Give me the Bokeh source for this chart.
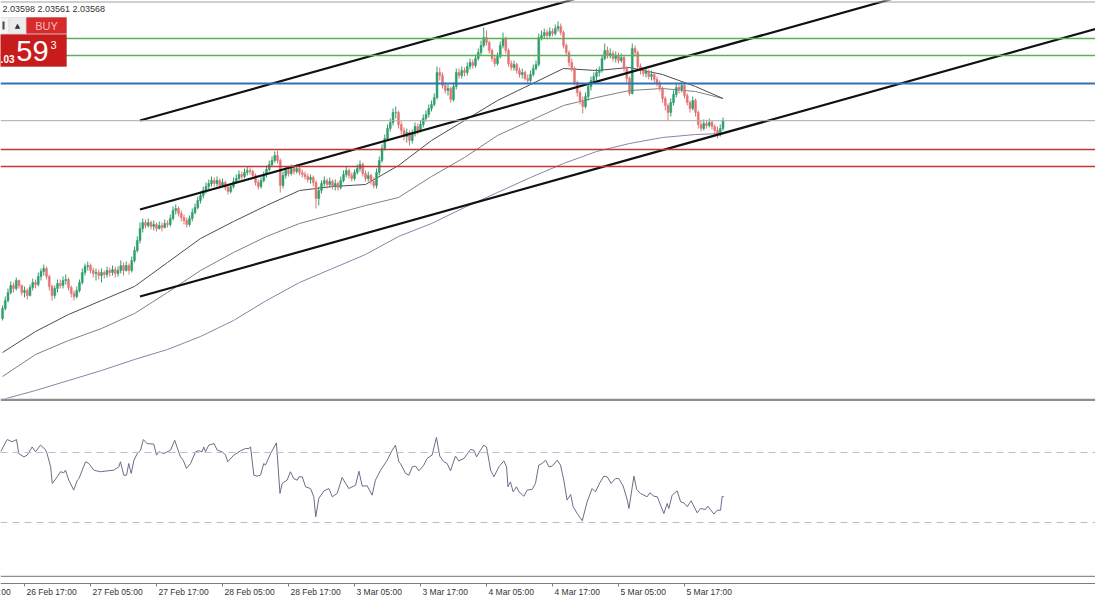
from bokeh.plotting import figure
from bokeh.layouts import column
from bokeh.models import Range1d, Span, Label, BoxAnnotation, ColumnDataSource
from bokeh.embed import file_html
from bokeh.resources import INLINE
from bokeh.core.properties import value

# ---------------- data (M30 bars, bar index 0 = 26 Feb 05:00) ----------------
first_bar = 16
first_open = 2.0159
close = [
    2.0169, 2.0177, 2.0185, 2.0192, 2.0189, 2.0197, 2.0192, 2.0185, 2.0187, 2.0182,
    2.0190, 2.0195, 2.0193, 2.0201, 2.0206, 2.0209, 2.0201, 2.0191, 2.0182, 2.0189,
    2.0194, 2.0192, 2.0197, 2.0198, 2.0190, 2.0184, 2.0181, 2.0187, 2.0195, 2.0205,
    2.0211, 2.0212, 2.0207, 2.0204, 2.0205, 2.0202, 2.0205, 2.0203, 2.0207, 2.0205,
    2.0208, 2.0204, 2.0207, 2.0212, 2.0207, 2.0212, 2.0207, 2.0217, 2.0227, 2.0237,
    2.0249, 2.0255, 2.0252, 2.0255, 2.0251, 2.0253, 2.0249, 2.0252, 2.0250, 2.0254,
    2.0253, 2.0259, 2.0267, 2.0269, 2.0264, 2.0260, 2.0257, 2.0253, 2.0259, 2.0265,
    2.0270, 2.0277, 2.0282, 2.0287, 2.0291, 2.0294, 2.0297, 2.0294, 2.0297, 2.0292,
    2.0295, 2.0290, 2.0286, 2.0291, 2.0296, 2.0299, 2.0303, 2.0301, 2.0305, 2.0307,
    2.0306, 2.0302, 2.0295, 2.0291, 2.0297, 2.0303, 2.0308, 2.0313, 2.0317, 2.0322,
    2.0317, 2.0292, 2.0302, 2.0307, 2.0304, 2.0309, 2.0306, 2.0309, 2.0305, 2.0303,
    2.0301, 2.0298, 2.0300, 2.0295, 2.0279, 2.0287, 2.0294, 2.0297, 2.0293, 2.0296,
    2.0291, 2.0294, 2.0290, 2.0297, 2.0303, 2.0307, 2.0302, 2.0299, 2.0305, 2.0309,
    2.0313, 2.0304, 2.0299, 2.0302, 2.0296, 2.0292, 2.0305, 2.0317, 2.0329, 2.0339,
    2.0349, 2.0355, 2.0365, 2.0365, 2.0353, 2.0347, 2.0341, 2.0345, 2.0337, 2.0344,
    2.0351, 2.0347, 2.0353, 2.0359, 2.0363, 2.0369, 2.0373, 2.0380, 2.0405, 2.0402,
    2.0392, 2.0387, 2.0389, 2.0378, 2.0391, 2.0405, 2.0402, 2.0407, 2.0405, 2.0411,
    2.0415, 2.0412, 2.0419, 2.0425, 2.0432, 2.0440, 2.0435, 2.0427, 2.0419, 2.0414,
    2.0421, 2.0432, 2.0439, 2.0427, 2.0414, 2.0410, 2.0413, 2.0407, 2.0403, 2.0405,
    2.0399, 2.0397, 2.0403, 2.0409, 2.0413, 2.0440, 2.0442, 2.0445, 2.0442, 2.0446,
    2.0444, 2.0449, 2.0451, 2.0445, 2.0432, 2.0425, 2.0415, 2.0409, 2.0395, 2.0385,
    2.0377, 2.0371, 2.0381, 2.0391, 2.0397, 2.0401, 2.0405, 2.0407, 2.0419, 2.0427,
    2.0422, 2.0424, 2.0419, 2.0422, 2.0417, 2.0420, 2.0409, 2.0399, 2.0384, 2.0429,
    2.0425, 2.0411, 2.0407, 2.0404, 2.0406, 2.0401, 2.0403, 2.0398, 2.0394, 2.0389,
    2.0379, 2.0372, 2.0365, 2.0375, 2.0383, 2.0390, 2.0388, 2.0392, 2.0382, 2.0375,
    2.0369, 2.0377, 2.0365, 2.0353, 2.0349, 2.0354, 2.0352, 2.0355, 2.0351, 2.0347,
    2.0344, 2.0349, 2.0357,
]
high = [
    2.0172, 2.0181, 2.0189, 2.0196, 2.0195, 2.0200, 2.0198, 2.0193, 2.0191, 2.0189,
    2.0193, 2.0199, 2.0198, 2.0205, 2.0209, 2.0213, 2.0211, 2.0203, 2.0193, 2.0192,
    2.0198, 2.0198, 2.0201, 2.0203, 2.0200, 2.0192, 2.0187, 2.0191, 2.0198, 2.0209,
    2.0214, 2.0216, 2.0214, 2.0210, 2.0209, 2.0208, 2.0209, 2.0207, 2.0211, 2.0210,
    2.0212, 2.0211, 2.0211, 2.0217, 2.0215, 2.0216, 2.0214, 2.0221, 2.0231, 2.0241,
    2.0255, 2.0259, 2.0258, 2.0259, 2.0257, 2.0257, 2.0255, 2.0256, 2.0255, 2.0258,
    2.0257, 2.0263, 2.0271, 2.0273, 2.0271, 2.0267, 2.0263, 2.0260, 2.0262, 2.0269,
    2.0274, 2.0281, 2.0286, 2.0291, 2.0295, 2.0298, 2.0301, 2.0300, 2.0301, 2.0299,
    2.0299, 2.0297, 2.0293, 2.0294, 2.0300, 2.0303, 2.0307, 2.0306, 2.0309, 2.0311,
    2.0310, 2.0308, 2.0304, 2.0298, 2.0300, 2.0306, 2.0312, 2.0317, 2.0321, 2.0326,
    2.0327, 2.0319, 2.0306, 2.0311, 2.0310, 2.0313, 2.0311, 2.0313, 2.0311, 2.0308,
    2.0306, 2.0304, 2.0303, 2.0302, 2.0297, 2.0291, 2.0297, 2.0301, 2.0299, 2.0300,
    2.0298, 2.0298, 2.0296, 2.0301, 2.0307, 2.0311, 2.0309, 2.0305, 2.0308, 2.0313,
    2.0317, 2.0315, 2.0307, 2.0306, 2.0304, 2.0300, 2.0309, 2.0321, 2.0333, 2.0343,
    2.0353, 2.0359, 2.0369, 2.0371, 2.0367, 2.0356, 2.0350, 2.0349, 2.0347, 2.0348,
    2.0355, 2.0354, 2.0357, 2.0363, 2.0367, 2.0373, 2.0377, 2.0384, 2.0411, 2.0410,
    2.0405, 2.0395, 2.0393, 2.0391, 2.0395, 2.0409, 2.0409, 2.0411, 2.0410, 2.0415,
    2.0419, 2.0418, 2.0423, 2.0429, 2.0437, 2.0450, 2.0447, 2.0437, 2.0429, 2.0422,
    2.0425, 2.0436, 2.0445, 2.0441, 2.0429, 2.0417, 2.0417, 2.0415, 2.0410, 2.0409,
    2.0407, 2.0403, 2.0407, 2.0413, 2.0417, 2.0444, 2.0447, 2.0449, 2.0448, 2.0450,
    2.0449, 2.0453, 2.0456, 2.0454, 2.0447, 2.0434, 2.0427, 2.0419, 2.0411, 2.0397,
    2.0387, 2.0381, 2.0385, 2.0395, 2.0401, 2.0405, 2.0409, 2.0411, 2.0423, 2.0434,
    2.0431, 2.0429, 2.0427, 2.0426, 2.0425, 2.0424, 2.0422, 2.0411, 2.0401, 2.0434,
    2.0432, 2.0427, 2.0414, 2.0410, 2.0410, 2.0408, 2.0407, 2.0405, 2.0401, 2.0397,
    2.0391, 2.0381, 2.0374, 2.0379, 2.0387, 2.0394, 2.0393, 2.0396, 2.0394, 2.0384,
    2.0377, 2.0381, 2.0379, 2.0367, 2.0357, 2.0358, 2.0357, 2.0359, 2.0357, 2.0353,
    2.0351, 2.0353, 2.0360,
]
low = [
    2.0157, 2.0167, 2.0175, 2.0183, 2.0185, 2.0187, 2.0189, 2.0182, 2.0180, 2.0178,
    2.0181, 2.0187, 2.0189, 2.0191, 2.0197, 2.0202, 2.0198, 2.0187, 2.0177, 2.0179,
    2.0185, 2.0189, 2.0189, 2.0193, 2.0187, 2.0180, 2.0177, 2.0179, 2.0185, 2.0193,
    2.0202, 2.0207, 2.0204, 2.0200, 2.0197, 2.0198, 2.0195, 2.0199, 2.0200, 2.0201,
    2.0202, 2.0200, 2.0201, 2.0204, 2.0202, 2.0206, 2.0203, 2.0205, 2.0215, 2.0225,
    2.0234, 2.0245, 2.0249, 2.0250, 2.0248, 2.0247, 2.0246, 2.0248, 2.0246, 2.0249,
    2.0250, 2.0251, 2.0257, 2.0263, 2.0261, 2.0256, 2.0253, 2.0250, 2.0251, 2.0256,
    2.0263, 2.0268, 2.0274, 2.0279, 2.0284, 2.0288, 2.0291, 2.0291, 2.0291, 2.0289,
    2.0290, 2.0287, 2.0283, 2.0284, 2.0289, 2.0294, 2.0297, 2.0298, 2.0299, 2.0302,
    2.0303, 2.0299, 2.0292, 2.0288, 2.0289, 2.0295, 2.0300, 2.0306, 2.0311, 2.0315,
    2.0314, 2.0285, 2.0289, 2.0299, 2.0301, 2.0302, 2.0303, 2.0304, 2.0302, 2.0300,
    2.0298, 2.0295, 2.0294, 2.0291, 2.0269, 2.0272, 2.0284, 2.0291, 2.0289, 2.0290,
    2.0288, 2.0287, 2.0287, 2.0288, 2.0295, 2.0300, 2.0299, 2.0296, 2.0297, 2.0303,
    2.0306, 2.0301, 2.0296, 2.0296, 2.0293, 2.0289, 2.0289, 2.0302, 2.0315, 2.0327,
    2.0337, 2.0346, 2.0352, 2.0359, 2.0349, 2.0343, 2.0337, 2.0335, 2.0332, 2.0334,
    2.0341, 2.0343, 2.0345, 2.0350, 2.0356, 2.0360, 2.0366, 2.0371, 2.0378, 2.0397,
    2.0389, 2.0384, 2.0382, 2.0375, 2.0376, 2.0388, 2.0399, 2.0399, 2.0401, 2.0402,
    2.0408, 2.0409, 2.0410, 2.0417, 2.0422, 2.0430, 2.0432, 2.0424, 2.0416, 2.0411,
    2.0412, 2.0419, 2.0429, 2.0424, 2.0411, 2.0407, 2.0407, 2.0404, 2.0400, 2.0399,
    2.0397, 2.0394, 2.0395, 2.0401, 2.0407, 2.0411, 2.0437, 2.0439, 2.0439, 2.0440,
    2.0441, 2.0442, 2.0446, 2.0442, 2.0429, 2.0422, 2.0411, 2.0406, 2.0392, 2.0381,
    2.0373, 2.0364, 2.0369, 2.0377, 2.0387, 2.0394, 2.0397, 2.0401, 2.0405, 2.0417,
    2.0419, 2.0419, 2.0416, 2.0415, 2.0414, 2.0415, 2.0406, 2.0395, 2.0382, 2.0383,
    2.0421, 2.0407, 2.0403, 2.0401, 2.0400, 2.0398, 2.0397, 2.0395, 2.0391, 2.0386,
    2.0375, 2.0367, 2.0357, 2.0361, 2.0372, 2.0380, 2.0384, 2.0385, 2.0379, 2.0372,
    2.0365, 2.0367, 2.0361, 2.0349, 2.0346, 2.0347, 2.0349, 2.0350, 2.0348, 2.0342,
    2.0339, 2.0341, 2.0347,
]

# moving averages, read at every 12th bar
ma_bars = [16, 28, 40, 52, 64, 76, 88, 100, 112, 124, 136, 148,
           160, 172, 184, 196, 208, 220, 232, 244, 256, 268, 278]
ma_fast = [2.0125, 2.0146, 2.0163, 2.0177, 2.0191, 2.0215, 2.0239, 2.0256, 2.0272, 2.0287, 2.0291, 2.0293,
           2.0312, 2.0337, 2.0357, 2.0377, 2.0393, 2.0409, 2.0407, 2.0410, 2.0403, 2.0391, 2.0379]
ma_mid = [2.0101, 2.0123, 2.0137, 2.0149, 2.0164, 2.0185, 2.0207, 2.0225, 2.0241, 2.0254, 2.0263, 2.0272,
          2.0280, 2.0301, 2.0320, 2.0342, 2.0357, 2.0372, 2.0380, 2.0387, 2.0389, 2.0386, 2.0379]
ma_slow = [2.0078, 2.0087, 2.0097, 2.0107, 2.0118, 2.0128, 2.0141, 2.0157, 2.0177, 2.0195, 2.0209, 2.0223,
           2.0241, 2.0254, 2.0270, 2.0285, 2.0300, 2.0314, 2.0326, 2.0334, 2.0340, 2.0343, 2.0344]

# RSI line vertices (bar position, value)
rsi_bars = [15.3, 17.7, 19.5, 21.1, 21.9, 23.8, 25.0, 26.8, 28.0, 29.8, 31.6, 32.2, 33.5, 34.1, 35.9, 37.1,
            38.3, 38.9, 40.1, 41.9, 43.2, 43.8, 46.2, 47.4, 49.2, 51.6, 54.1, 56.5, 58.3, 58.9, 60.1, 61.1,
            61.9, 62.8, 63.8, 65.0, 66.2, 67.2, 68.6, 71.0, 72.0, 72.9, 74.7, 77.1, 78.6, 80.7, 81.7, 82.9,
            84.4, 86.2, 87.4, 88.6, 89.2, 89.8, 91.0, 92.9, 94.1, 95.9, 97.1, 97.9, 100.1, 102.6, 104.4, 105.6,
            106.2, 107.4, 108.6, 109.8, 111.0, 111.6, 113.5, 115.6, 116.9, 117.7, 119.5, 120.7, 121.9, 123.2,
            123.8, 125.0, 126.2, 128.0, 129.2, 129.9, 131.0, 132.9, 134.7, 135.9, 137.7, 139.5, 141.9, 144.4,
            145.6, 146.8, 148.6, 150.4, 151.6, 153.5, 155.9, 157.7, 158.9, 160.1, 160.7, 162.6, 163.8, 165.0,
            166.2, 167.4, 169.2, 170.4, 172.2, 173.8, 175.0, 176.5, 177.7, 178.9, 180.7, 181.9, 183.8, 186.2,
            187.4, 188.4, 189.8, 191.0, 192.0, 193.5, 194.7, 196.5, 198.3, 199.3, 199.8, 200.7, 201.7, 202.9,
            203.8, 205.6, 206.8, 208.6, 209.8, 211.0, 212.2, 213.5, 214.7, 215.9, 217.7, 218.9, 220.1, 221.3,
            222.6, 223.5, 225.0, 226.8, 228.6, 230.4, 231.6, 233.2, 234.7, 235.9, 237.3, 238.9, 240.1, 241.7,
            243.2, 243.8, 245.6, 246.6, 248.0, 250.4, 251.4, 252.9, 254.1, 256.5, 257.7, 258.3, 259.5, 261.3,
            262.6, 263.8, 265.0, 266.4, 267.4, 268.6, 269.8, 271.6, 272.5, 274.7, 275.9, 277.1, 277.7, 278.3]
rsi_values = [70.4, 77.4, 76.1, 77.4, 69.4, 67.5, 68.5, 73.2, 70.4, 74.2, 71.7, 69.4, 61.8, 52.3, 56.1, 59.0,
              58.4, 59.9, 54.2, 48.5, 54.2, 55.1, 64.7, 63.7, 59.9, 59.0, 59.5, 59.9, 61.8, 64.7, 57.0, 57.0,
              63.7, 58.0, 65.6, 69.4, 71.3, 77.4, 75.1, 74.8, 68.5, 70.4, 69.4, 71.3, 77.0, 67.5, 65.6, 60.9,
              63.7, 70.4, 71.0, 70.4, 73.2, 70.4, 74.2, 75.1, 71.3, 70.4, 68.5, 64.7, 68.5, 71.0, 72.3, 72.3,
              73.2, 57.0, 56.5, 57.0, 63.7, 62.8, 69.4, 75.5, 46.6, 52.3, 54.2, 59.0, 55.1, 54.2,
              56.1, 56.1, 50.4, 49.4, 44.7, 33.2, 43.7, 48.1, 49.4, 44.7, 46.6, 55.7, 49.4, 51.3,
              59.3, 50.8, 51.0, 45.6, 54.2, 59.9, 65.6, 71.3, 74.2, 64.7, 63.7, 58.0, 57.0, 61.8,
              62.2, 59.5, 62.8, 66.6, 68.5, 78.6, 67.9, 64.7, 63.7, 59.5, 67.9, 65.2, 66.6, 71.7,
              71.3, 67.5, 71.3, 74.2, 73.2, 59.9, 56.1, 61.8, 65.2, 61.8, 50.4, 53.2, 47.5, 50.4,
              47.5, 45.0, 48.5, 48.9, 52.3, 62.8, 63.7, 65.6, 61.8, 62.2, 65.6, 62.8, 54.2, 42.8,
              46.0, 39.0, 35.1, 31.0, 41.8, 49.4, 47.5, 52.7, 56.5, 56.1, 52.3, 55.1, 55.1, 50.8,
              42.8, 38.0, 56.5, 48.9, 46.6, 44.7, 47.0, 45.0, 44.7, 35.1, 40.9, 38.0, 45.6, 48.1,
              41.8, 41.2, 39.0, 42.4, 39.3, 35.5, 38.0, 37.4, 39.3, 34.8, 37.0, 37.0, 45.0, 44.7]
rsi_levels = [70, 30]

# horizontal levels
green_levels = [2.0439, 2.0422]
blue_level = 2.0394
bid_price = 2.03568
red_levels = [2.0328, 2.0311]
chart_top_line = 2.04755

# channel trend lines
trend_bar0 = [66, 66, 66]
trend_price0 = [2.0357, 2.0268, 2.0181]
trend_bar1 = [230, 340, 414]
trend_price1 = [2.0483, 2.0479, 2.0449]

# time axis
tick_bars = [0, 24, 48, 72, 96, 120, 144, 168, 192, 216, 240, 264]
tick_labels = ["26 Feb 05:00", "26 Feb 17:00", "27 Feb 05:00", "27 Feb 17:00", "28 Feb 05:00",
               "28 Feb 17:00", "3 Mar 05:00", "3 Mar 17:00", "4 Mar 05:00", "4 Mar 17:00",
               "5 Mar 05:00", "5 Mar 17:00"]
header_text = "2.03598 2.03561 2.03568"
bid_big, bid_small, bid_point = "59", "3", ".03"

# ---------------- derived ----------------
bars = list(range(first_bar, first_bar + len(close)))
opens = [first_open] + close[:-1]
GREEN, RED = "#2f9e6c", "#e47474"
colors = [GREEN if c >= o else RED for o, c in zip(opens, close)]
src = ColumnDataSource(dict(x=bars, o=opens, c=close, h=high, l=low, col=colors))

W = 1095
x_range = Range1d(15.27, 413.45)
FONT = "Liberation Sans"

# ---------------- price panel ----------------
p = figure(width=W, height=401, x_range=x_range, y_range=Range1d(2.0079, 2.0477),
           x_axis_location=None, y_axis_location=None, toolbar_location=None,
           output_backend="svg", title=None, min_border=0, min_border_bottom=3)
p.grid.visible = False
p.outline_line_color = None
p.background_fill_color = "white"
p.border_fill_color = "#8e8e8e"

p.add_layout(Span(location=chart_top_line, dimension="width", line_color="#a0a0a0", line_width=1))
for lv in green_levels:
    p.add_layout(Span(location=lv, dimension="width", line_color="#58b058", line_width=1.3))
p.add_layout(Span(location=blue_level, dimension="width", line_color="#3372b0", line_width=1.8))
p.add_layout(Span(location=bid_price, dimension="width", line_color="#a9a9a9", line_width=1))
for lv in red_levels:
    p.add_layout(Span(location=lv, dimension="width", line_color="#c63638", line_width=1.6))

p.line(ma_bars, ma_slow, line_color="#8b82a6", line_width=1)
p.line(ma_bars, ma_mid, line_color="#808080", line_width=1)
p.line(ma_bars, ma_fast, line_color="#4d4d4d", line_width=1)

p.segment(x0="x", y0="h", x1="x", y1="l", color="col", line_width=1, source=src)
p.vbar(x="x", width=0.7, top="o", bottom="c", fill_color="col", line_color="col",
       line_width=0.5, source=src)

p.segment(x0=trend_bar0, y0=trend_price0, x1=trend_bar1, y1=trend_price1,
          line_color="#111111", line_width=2.2)

# header and one-click trading widget (screen units, frame-relative, y up from frame bottom)
p.add_layout(Label(x=2, y=395, x_units="screen", y_units="screen", text=header_text,
                   text_baseline="top", text_font=FONT, text_font_size="9px", text_color="#333333"))
p.add_layout(BoxAnnotation(left=-3, right=8, bottom=365, top=381, left_units="screen",
                           right_units="screen", bottom_units="screen", top_units="screen",
                           fill_color="#f4f4f4", fill_alpha=1, line_color="#b5b5b5", line_width=1))
p.add_layout(BoxAnnotation(left=2, right=4, bottom=369, top=377, left_units="screen",
                           right_units="screen", bottom_units="screen", top_units="screen",
                           fill_color="#444444", fill_alpha=1, line_color=None))
p.add_layout(BoxAnnotation(left=9, right=25, bottom=365, top=381, left_units="screen",
                           right_units="screen", bottom_units="screen", top_units="screen",
                           fill_color="#ececec", fill_alpha=1, line_color="#b5b5b5", line_width=1))
p.add_layout(Label(x=17, y=373, x_units="screen", y_units="screen", text="▲", text_align="center",
                   text_baseline="middle", text_font="DejaVu Sans", text_font_size="7px", text_color="#333333"))
p.add_layout(BoxAnnotation(left=26, right=66, bottom=365, top=381, left_units="screen",
                           right_units="screen", bottom_units="screen", top_units="screen",
                           fill_color="#d52b2b", fill_alpha=1, line_color="#b01a1a", line_width=1))
p.add_layout(Label(x=46, y=373, x_units="screen", y_units="screen", text="BUY", text_align="center",
                   text_baseline="middle", text_font=FONT, text_font_size="11px", text_color="#f6bcbc"))
p.add_layout(BoxAnnotation(left=-1, right=66, bottom=332, top=364, left_units="screen",
                           right_units="screen", bottom_units="screen", top_units="screen",
                           fill_color="#c81c1c", fill_alpha=1, line_color="#a51414", line_width=1))
p.add_layout(Label(x=14, y=340, x_units="screen", y_units="screen", text=bid_point, text_align="right",
                   text_baseline="alphabetic", text_font=FONT, text_font_size="10px",
                   text_font_style="bold", text_color="white"))
p.add_layout(Label(x=32, y=348, x_units="screen", y_units="screen", text=bid_big, text_align="center",
                   text_baseline="middle", text_font=FONT, text_font_size="29px", text_color="white"))
p.add_layout(Label(x=53, y=354, x_units="screen", y_units="screen", text=bid_small, text_align="center",
                   text_baseline="middle", text_font=FONT, text_font_size="11px", text_color="white"))

# ---------------- RSI panel ----------------
r = figure(width=W, height=176, x_range=x_range, y_range=Range1d(-0.29, 99.14),
           x_axis_location=None, y_axis_location=None, toolbar_location=None,
           output_backend="svg", title=None, min_border=0, min_border_bottom=2)
r.grid.visible = False
r.outline_line_color = None
r.border_fill_color = "#8e8e8e"
for lv in rsi_levels:
    r.add_layout(Span(location=lv, dimension="width", line_color="#bcbccf", line_width=1,
                      line_dash="7 5"))
r.line(rsi_bars, rsi_values, line_color="#6c6c8a", line_width=1)

# ---------------- time axis strip ----------------
a = figure(width=W, height=23, x_range=x_range, y_range=Range1d(0, 23),
           x_axis_location=None, y_axis_location=None, toolbar_location=None,
           output_backend="svg", title=None, min_border=0)
a.grid.visible = False
a.outline_line_color = None
a.add_layout(Span(location=17, dimension="width", line_color="#7c7c7c", line_width=1))
a.segment(x0=tick_bars, y0=[17] * len(tick_bars), x1=tick_bars, y1=[14] * len(tick_bars),
          line_color="#7c7c7c", line_width=1)
a.text(x=tick_bars, y=[9] * len(tick_bars), text=tick_labels, text_align="left",
       text_baseline="middle", x_offset=2, text_font=value(FONT),
       text_font_size=value("8.5px"), text_color="#333333")

layout = column(p, r, a, spacing=0)
open("out.html", "w").write(file_html(layout, INLINE))
